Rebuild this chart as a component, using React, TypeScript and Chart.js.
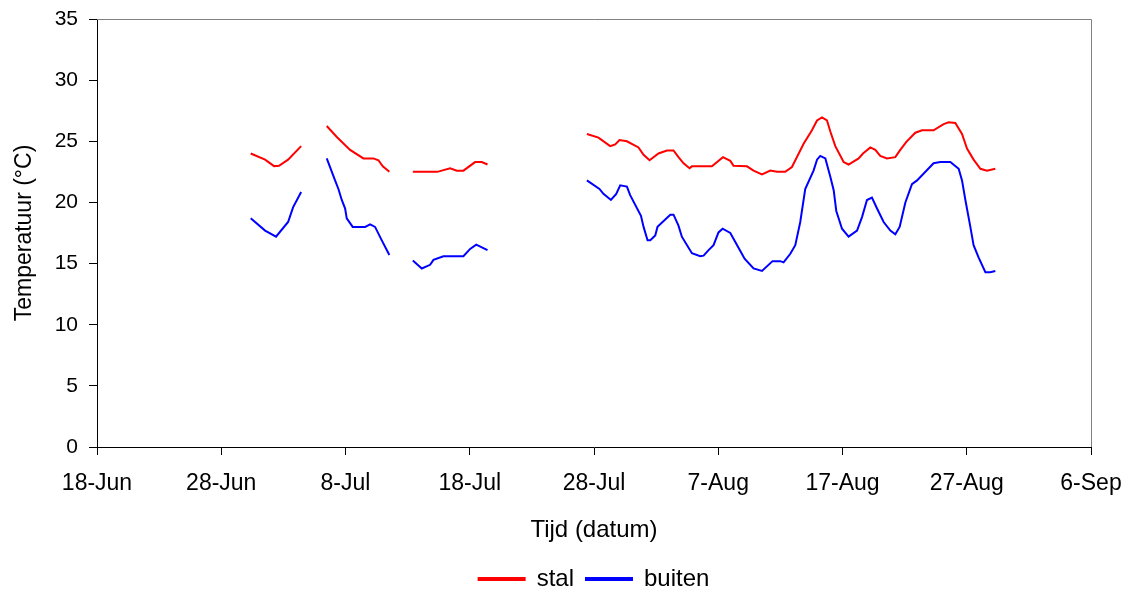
import React, { useEffect, useRef } from "react";
import { Chart, registerables } from "chart.js";

Chart.register(...registerables);

// x = days since 18-Jun; null marks a gap in the record
const stalDays = [
  12.37, 13.53, 14.25, 14.65, 15.38, 16.43, 17.5,
  18.49, 19.3, 20.37, 21.44, 22.25, 22.65, 23.0, 23.53, 24.5,
  25.42, 27.39, 28.42, 28.96, 29.49, 30.43, 30.97, 31.43, 35.0,
  39.43, 40.36, 41.3, 41.71, 42.05, 42.65, 43.58, 43.99, 44.47, 45.19, 45.87, 46.4, 46.8, 47.21, 47.69, 47.88,
  49.49, 50.38, 50.97, 51.23, 52.31, 52.84, 53.52, 54.19, 54.73, 55.39, 55.93, 56.87, 57.54, 57.95, 58.35,
  58.75, 59.02, 59.42, 60.09, 60.49, 61.3, 61.65, 62.24, 62.64, 63.04, 63.58, 64.25, 64.65, 65.14, 65.86,
  66.4, 67.33, 68.14, 68.54, 69.08, 69.62, 70.02, 70.55, 71.1, 71.63, 72.3,
];
const stalTemp = [
  24.0, 23.5, 22.97, 23.0, 23.5, 24.6, null,
  26.25, 25.35, 24.3, 23.6, 23.6, 23.45, 22.95, 22.5, null,
  22.5, 22.5, 22.8, 22.6, 22.6, 23.3, 23.3, 23.1, null,
  25.6, 25.3, 24.6, 24.75, 25.1, 25.0, 24.5, 23.9, 23.45, 24.0, 24.25, 24.25, 23.7, 23.2, 22.8, 22.95,
  22.95, 23.7, 23.4, 23.0, 22.95, 22.6, 22.3, 22.6, 22.5, 22.5, 22.9, 24.8, 25.9, 26.7, 26.95,
  26.7, 25.8, 24.6, 23.3, 23.1, 23.6, 24.0, 24.5, 24.3, 23.8, 23.6, 23.7, 24.3, 24.95, 25.7,
  25.9, 25.9, 26.4, 26.55, 26.5, 25.6, 24.4, 23.5, 22.75, 22.6, 22.75,
];

const buitenDays = [
  12.37, 13.53, 14.41, 15.38, 15.78, 16.43, 17.5,
  18.49, 19.16, 19.43, 19.7, 19.97, 20.1, 20.58, 21.58, 21.98, 22.38, 22.92, 23.53, 24.5,
  25.42, 26.14, 26.81, 27.08, 27.88, 29.49, 30.03, 30.52, 31.43, 35.0,
  39.43, 40.44, 40.76, 41.36, 41.79, 42.11, 42.65, 42.91, 43.78, 43.99, 44.31, 44.53, 44.93, 45.11, 46.14,
  46.4, 46.8, 47.07, 47.88, 48.55, 48.82, 49.22, 49.62, 50.02, 50.35, 50.97, 51.9, 52.12, 52.84, 53.52,
  54.37, 54.99, 55.26, 55.8, 56.2, 56.6, 57.0, 57.67, 57.95, 58.21, 58.62, 59.02, 59.29, 59.5, 59.96,
  60.49, 61.17, 61.57, 61.97, 62.37, 62.78, 63.31, 63.85, 64.25, 64.6, 65.06, 65.59, 66.0, 67.33, 67.87,
  68.68, 69.35, 69.62, 69.89, 70.29, 70.55, 70.95, 71.5, 71.9, 72.3,
];
const buitenTemp = [
  18.7, 17.7, 17.2, 18.4, 19.6, 20.85, null,
  23.6, 21.8, 21.1, 20.2, 19.5, 18.7, 18.0, 18.0, 18.2, 18.0, 16.9, 15.7, null,
  15.25, 14.6, 14.9, 15.3, 15.6, 15.6, 16.2, 16.55, 16.1, null,
  21.8, 21.1, 20.7, 20.2, 20.7, 21.4, 21.3, 20.6, 18.9, 18.0, 16.9, 16.9, 17.3, 18.0, 19.0,
  19.0, 18.1, 17.2, 15.85, 15.6, 15.65, 16.1, 16.5, 17.55, 17.85, 17.5, 15.8, 15.4, 14.6, 14.4,
  15.2, 15.2, 15.1, 15.8, 16.5, 18.4, 21.1, 22.6, 23.5, 23.8, 23.6, 22.1, 21.0, 19.3, 17.85,
  17.2, 17.7, 18.8, 20.2, 20.4, 19.5, 18.4, 17.7, 17.4, 18.0, 20.0, 21.5, 21.8, 23.2, 23.3,
  23.3, 22.75, 21.8, 20.2, 18.0, 16.5, 15.5, 14.3, 14.3, 14.4,
];

const xTickLabels = ["18-Jun", "28-Jun", "8-Jul", "18-Jul", "28-Jul", "7-Aug", "17-Aug", "27-Aug", "6-Sep"];
const yTicks = [0, 5, 10, 15, 20, 25, 30, 35];

const FONT = "'Liberation Sans', Arial, sans-serif";

const frame = {
  id: "frame",
  afterDatasetsDraw(chart: any) {
    const { ctx, chartArea } = chart;
    ctx.save();
    ctx.strokeStyle = "#808080";
    ctx.lineWidth = 1;
    ctx.beginPath();
    ctx.moveTo(chartArea.left, chartArea.top + 0.5);
    ctx.lineTo(chartArea.right + 0.5, chartArea.top + 0.5);
    ctx.lineTo(chartArea.right + 0.5, chartArea.bottom);
    ctx.stroke();
    ctx.restore();
  },
};

export default function App() {
  const ref = useRef<HTMLCanvasElement | null>(null);
  useEffect(() => {
    document.body.style.margin = "0";
    const canvas = ref.current;
    if (!canvas) return;
    const toPts = (xs: number[], ys: (number | null)[]) => xs.map((x, i) => ({ x, y: ys[i] }));
    const chart = new Chart(canvas, {
      type: "line",
      data: {
        datasets: [
          {
            label: "stal",
            data: toPts(stalDays, stalTemp) as any,
            borderColor: "#FF0000",
            backgroundColor: "#FF0000",
            borderWidth: 2,
            pointRadius: 0,
            tension: 0,
            spanGaps: false,
          },
          {
            label: "buiten",
            data: toPts(buitenDays, buitenTemp) as any,
            borderColor: "#0000FF",
            backgroundColor: "#0000FF",
            borderWidth: 2,
            pointRadius: 0,
            tension: 0,
            spanGaps: false,
          },
        ],
      },
      options: {
        animation: false,
        responsive: false,
        layout: { padding: { left: 0, right: 40, top: 19, bottom: -8 } },
        plugins: {
          tooltip: { enabled: false },
          legend: {
            position: "bottom",
            fullSize: false,
            labels: {
              boxWidth: 46,
              boxHeight: 2,
              padding: 12,
              color: "#000",
              font: { family: FONT, size: 24 },
            },
          },
        },
        scales: {
          x: {
            type: "linear",
            min: 0,
            max: 80,
            afterFit: (s: any) => {
              s.height = 108;
              s.paddingLeft = 0;
              s.paddingRight = 0;
            },
            ticks: {
              stepSize: 10,
              autoSkip: false,
              maxRotation: 0,
              padding: 15,
              color: "#000",
              font: { family: FONT, size: 23 },
              callback: (_v: any, i: number) => xTickLabels[i],
            },
            grid: { drawOnChartArea: false, drawTicks: true, tickLength: 8, color: "#000" },
            border: { color: "#000", width: 1 },
            title: {
              display: true,
              text: "Tijd (datum)",
              color: "#000",
              font: { family: FONT, size: 24 },
              padding: { top: 0, bottom: 10 },
            },
          },
          y: {
            min: 0,
            max: 35,
            afterFit: (s: any) => {
              s.width = 97;
              s.paddingTop = 0;
              s.paddingBottom = 0;
            },
            afterBuildTicks: (s: any) => { s.ticks = yTicks.map((v) => ({ value: v })); },
            ticks: {
              stepSize: 5,
              padding: 11,
              color: "#000",
              font: { family: FONT, size: 21 },
            },
            grid: { drawOnChartArea: false, drawTicks: true, tickLength: 8, color: "#000" },
            border: { color: "#000", width: 1 },
            title: {
              display: true,
              text: "Temperatuur (°C)",
              color: "#000",
              font: { family: FONT, size: 23 },
              padding: { top: 11, bottom: 0 },
            },
          },
        },
      },
      plugins: [frame],
    });
    return () => chart.destroy();
  }, []);
  return (
    <div style={{ position: "absolute", left: 0, top: 0, width: 1131, height: 593, background: "#fff" }}>
      <canvas ref={ref} width={1131} height={593} style={{ display: "block" }} />
    </div>
  );
}
